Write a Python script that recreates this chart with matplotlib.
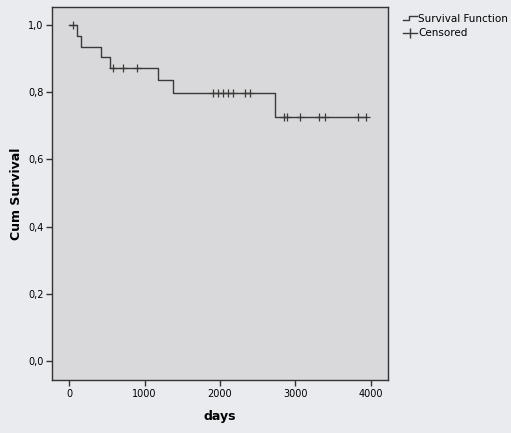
import numpy as np
import matplotlib.pyplot as plt
from matplotlib.legend_handler import HandlerBase
from matplotlib.lines import Line2D

# Kaplan-Meier step curve
step_days = [0, 105, 155, 424, 543, 1183, 1373, 2728]
step_surv = [1.0, 0.968, 0.935, 0.905, 0.871, 0.836, 0.797, 0.727]
end_day = 3935

censor_days = [50, 578, 720, 896, 1903, 1977, 2035, 2110, 2168, 2331, 2397,
               2852, 2883, 3060, 3315, 3391, 3832, 3930]

x_ticks = [0, 1000, 2000, 3000, 4000]
y_ticks = [0.0, 0.2, 0.4, 0.6, 0.8, 1.0]
y_labels = ["0,0", "0,2", "0,4", "0,6", "0,8", "1,0"]


class StepHandler(HandlerBase):
    # little step icon like the SPSS legend
    def create_artists(self, legend, orig, xd, yd, w, h, fs, trans):
        xs = [xd, xd + 0.45 * w, xd + 0.45 * w, xd + w]
        ys = [yd + 0.2 * h, yd + 0.2 * h, yd + 0.8 * h, yd + 0.8 * h]
        ln = Line2D(xs, ys, color=orig.get_color(), lw=orig.get_linewidth(),
                    transform=trans)
        return [ln]


fig = plt.figure(figsize=(5.11, 4.33), dpi=100)
fig.patch.set_facecolor("#e9ebee")
ax = fig.add_axes([0.102, 0.122, 0.657, 0.862])
ax.set_facecolor("#d9d9db")

xs = step_days + [end_day]
ys = step_surv + [step_surv[-1]]
line, = ax.step(xs, ys, where="post", color="#3a3a3a", lw=1.0)

idx = np.searchsorted(step_days, censor_days, side="right") - 1
c_surv = np.array(step_surv)[idx]
cens, = ax.plot(censor_days, c_surv, ls="none", marker="+", ms=6, mew=0.9,
                color="#3a3a3a")

ax.set_xlim(-225, 4225)
ax.set_ylim(-0.057, 1.054)
ax.set_xticks(x_ticks)
ax.set_yticks(y_ticks)
ax.set_yticklabels(y_labels)
ax.tick_params(direction="out", length=4, width=1, labelsize=7,
               color="#333333", pad=2)
for s in ax.spines.values():
    s.set_color("#333333")
    s.set_linewidth(1)

ax.set_xlabel("days", fontsize=9, fontweight="bold", labelpad=8)
ax.set_ylabel("Cum Survival", fontsize=9, fontweight="bold", labelpad=4)

leg_line = Line2D([], [], color="#3a3a3a", lw=1.0)
leg_cens = Line2D([], [], ls="-", lw=1.0, marker="|", ms=7, mew=1.0,
                  color="#3a3a3a")
fig.legend([leg_line, leg_cens], ["Survival Function", "Censored"],
           handler_map={leg_line: StepHandler()},
           loc="upper left", bbox_to_anchor=(0.775, 0.985), frameon=False,
           fontsize=7.5, handlelength=1.3, handletextpad=0.15,
           labelspacing=0.45, borderpad=0.2)

fig.savefig("out.png", dpi=100, facecolor=fig.get_facecolor())
